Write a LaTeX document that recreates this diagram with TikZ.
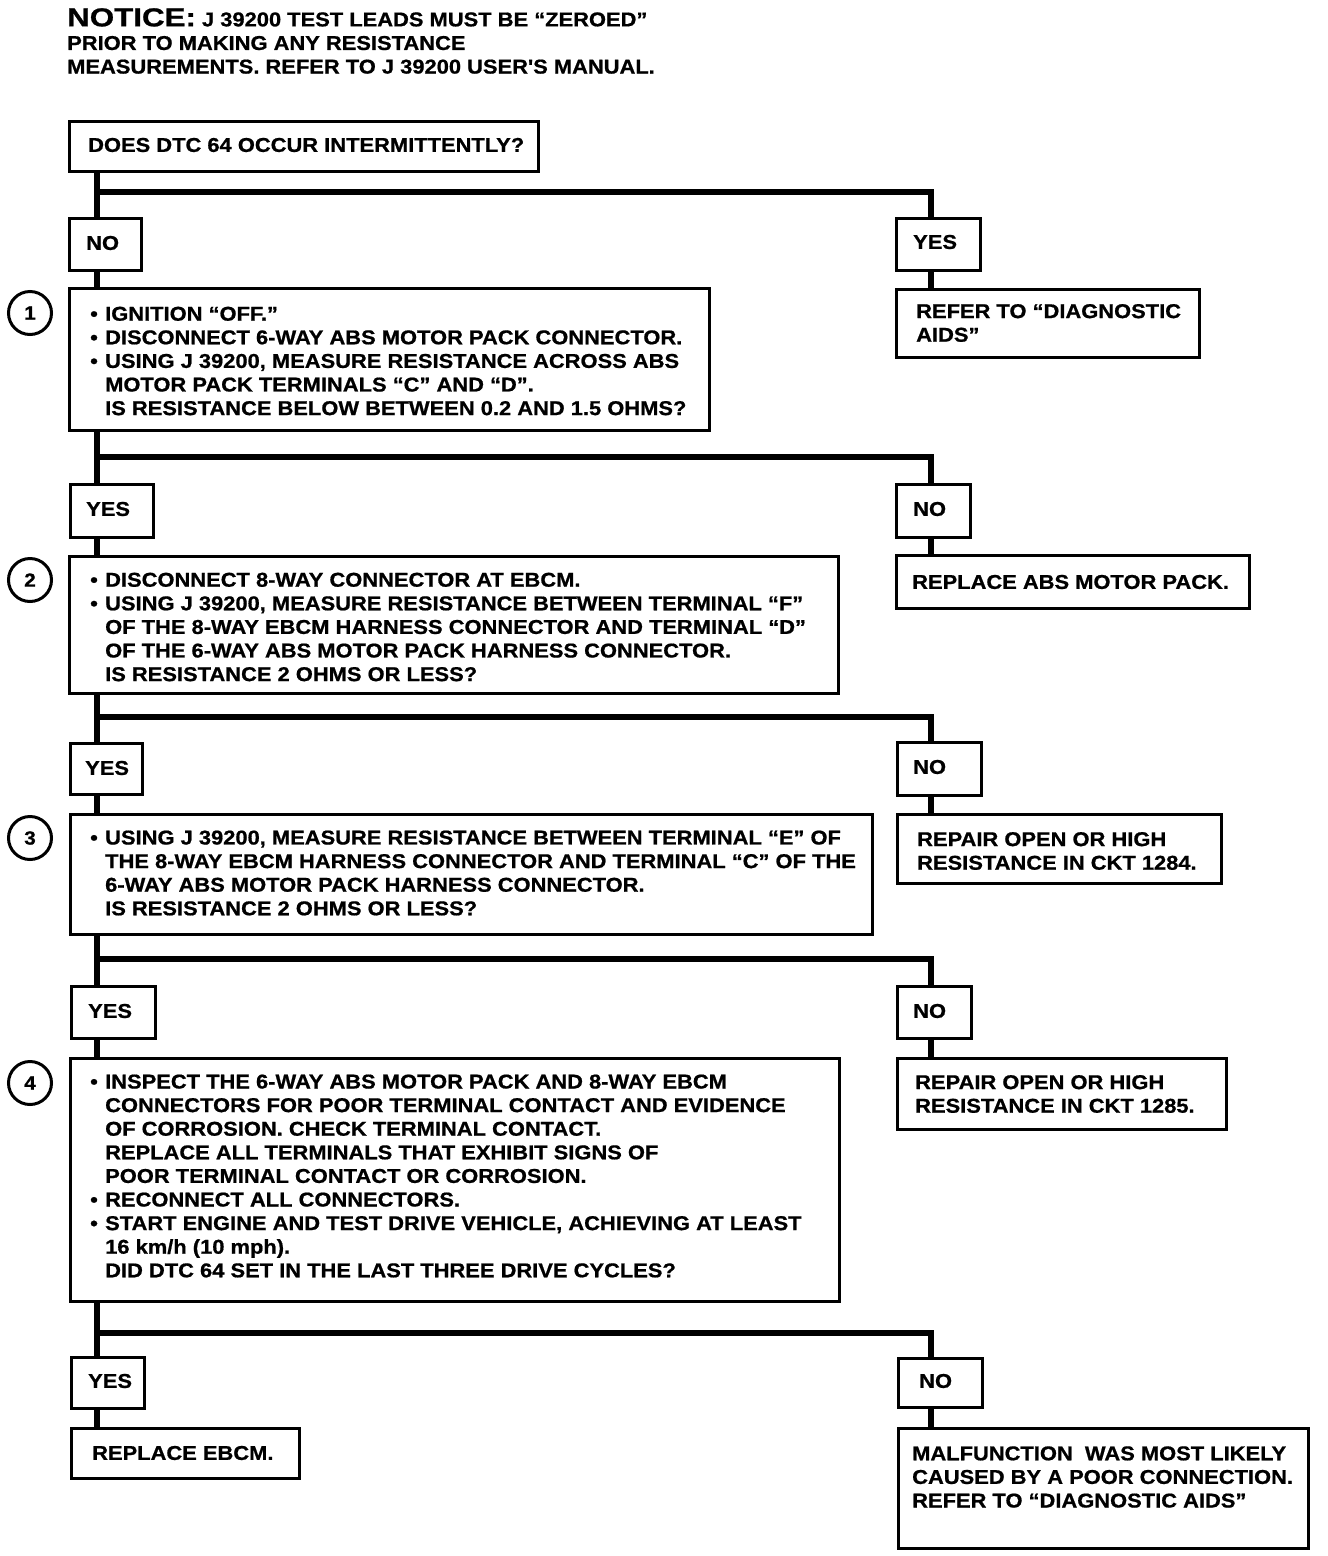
\documentclass[tikz,border=0pt]{standalone}
\usepackage{fontspec}
\usepackage{graphicx}
\newfontfamily\chartfont{Liberation Sans}[FakeStretch=1.095, FakeBold=0.8]
\tikzset{
  box/.style={draw, line width=3pt, anchor=north west, inner sep=0pt},
  txt/.style={anchor=west, inner sep=0pt, align=left,
    font=\chartfont\bfseries\fontsize{20}{23.6}\selectfont},
  conn/.style={line width=6pt},
  stepnum/.style={circle, draw, line width=3pt, minimum size=43pt, inner sep=0pt,
    font=\chartfont\bfseries\fontsize{19}{19}\selectfont}
}
\newcommand{\itm}{\makebox[15pt][l]{\textbullet}}
\newcommand{\ind}{\hspace*{15pt}}
\begin{document}
\begin{tikzpicture}[x=1pt,y=-1pt]
\useasboundingbox (0,0) rectangle (1328,1556);
\coordinate (spine) at (97,0);
\coordinate (rspine) at (931,0);
% notice
\node[txt, anchor=north west] (notice) at (67,8) {\scalebox{1.1}[1]{\fontsize{26}{26}\selectfont NOTICE:} J 39200 TEST LEADS MUST BE “ZEROED”\\PRIOR TO MAKING ANY RESISTANCE\\MEASUREMENTS. REFER TO J 39200 USER'S MANUAL.};
% boxes
\node[box, minimum width=469pt, minimum height=50pt] (q0) at (68,120) {};
\node[box, minimum width=72pt, minimum height=52pt] (n0) at (68,217) {};
\node[box, minimum width=84pt, minimum height=52pt] (y0) at (895,217) {};
\node[box, minimum width=303pt, minimum height=68pt] (r0) at (895,288) {};
\node[box, minimum width=640pt, minimum height=142pt] (b1) at (68,287) {};
\node[box, minimum width=83pt, minimum height=53pt] (y1) at (69,483) {};
\node[box, minimum width=74pt, minimum height=53pt] (n1) at (895,483) {};
\node[box, minimum width=353pt, minimum height=53pt] (r1) at (895,554) {};
\node[box, minimum width=769pt, minimum height=137pt] (b2) at (68,555) {};
\node[box, minimum width=72pt, minimum height=51pt] (y2) at (69,742) {};
\node[box, minimum width=84pt, minimum height=53pt] (n2) at (896,741) {};
\node[box, minimum width=324pt, minimum height=69pt] (r2) at (896,813) {};
\node[box, minimum width=802pt, minimum height=120pt] (b3) at (69,813) {};
\node[box, minimum width=84pt, minimum height=52pt] (y3) at (70,985) {};
\node[box, minimum width=74pt, minimum height=52pt] (n3) at (896,985) {};
\node[box, minimum width=329pt, minimum height=71pt] (r3) at (896,1057) {};
\node[box, minimum width=769pt, minimum height=243pt] (b4) at (69,1057) {};
\node[box, minimum width=73pt, minimum height=51pt] (y4) at (70,1356) {};
\node[box, minimum width=84pt, minimum height=49pt] (n4) at (897,1357) {};
\node[box, minimum width=228pt, minimum height=50pt] (r5) at (70,1427) {};
\node[box, minimum width=410pt, minimum height=120pt] (r4) at (897,1427) {};
% texts
\node[txt] (q0t) at (88,145) {DOES DTC 64 OCCUR INTERMITTENTLY?};
\node[txt] (n0t) at (86,243) {NO};
\node[txt] (y0t) at (913,242) {YES};
\node[txt] (r0t) at (916,323) {REFER TO “DIAGNOSTIC\\AIDS”};
\node[txt] (b1t) at (90,361) {\itm IGNITION “OFF.”\\\itm DISCONNECT 6-WAY ABS MOTOR PACK CONNECTOR.\\\itm USING J 39200, MEASURE RESISTANCE ACROSS ABS\\\ind MOTOR PACK TERMINALS “C” AND “D”.\\\ind IS RESISTANCE BELOW BETWEEN 0.2 AND 1.5 OHMS?};
\node[txt] (y1t) at (86,509) {YES};
\node[txt] (n1t) at (913,509) {NO};
\node[txt] (r1t) at (912,582) {REPLACE ABS MOTOR PACK.};
\node[txt] (b2t) at (90,627) {\itm DISCONNECT 8-WAY CONNECTOR AT EBCM.\\\itm USING J 39200, MEASURE RESISTANCE BETWEEN TERMINAL “F”\\\ind OF THE 8-WAY EBCM HARNESS CONNECTOR AND TERMINAL “D”\\\ind OF THE 6-WAY ABS MOTOR PACK HARNESS CONNECTOR.\\\ind IS RESISTANCE 2 OHMS OR LESS?};
\node[txt] (y2t) at (85,768) {YES};
\node[txt] (n2t) at (913,767) {NO};
\node[txt] (r2t) at (917,851) {REPAIR OPEN OR HIGH\\RESISTANCE IN CKT 1284.};
\node[txt] (b3t) at (90,873) {\itm USING J 39200, MEASURE RESISTANCE BETWEEN TERMINAL “E” OF\\\ind THE 8-WAY EBCM HARNESS CONNECTOR AND TERMINAL “C” OF THE\\\ind 6-WAY ABS MOTOR PACK HARNESS CONNECTOR.\\\ind IS RESISTANCE 2 OHMS OR LESS?};
\node[txt] (y3t) at (88,1011) {YES};
\node[txt] (n3t) at (913,1011) {NO};
\node[txt] (r3t) at (915,1094) {REPAIR OPEN OR HIGH\\RESISTANCE IN CKT 1285.};
\node[txt] (b4t) at (90,1176) {\itm INSPECT THE 6-WAY ABS MOTOR PACK AND 8-WAY EBCM\\\ind CONNECTORS FOR POOR TERMINAL CONTACT AND EVIDENCE\\\ind OF CORROSION. CHECK TERMINAL CONTACT.\\\ind REPLACE ALL TERMINALS THAT EXHIBIT SIGNS OF\\\ind POOR TERMINAL CONTACT OR CORROSION.\\\itm RECONNECT ALL CONNECTORS.\\\itm START ENGINE AND TEST DRIVE VEHICLE, ACHIEVING AT LEAST\\\ind 16 km/h (10 mph).\\\ind DID DTC 64 SET IN THE LAST THREE DRIVE CYCLES?};
\node[txt] (y4t) at (88,1381) {YES};
\node[txt] (n4t) at (919,1381) {NO};
\node[txt] (r5t) at (92,1453) {REPLACE EBCM.};
\node[txt] (r4t) at (912,1477) {MALFUNCTION\ \ WAS MOST LIKELY\\CAUSED BY A POOR CONNECTION.\\REFER TO “DIAGNOSTIC AIDS”};
% step numbers
\node[stepnum] (c1) at (30,313) {1};
\node[stepnum] (c2) at (30,580) {2};
\node[stepnum] (c3) at (30,838) {3};
\node[stepnum] (c4) at (30,1083) {4};
% split points
\coordinate (s0) at (97,192);
\coordinate (s1) at (97,457);
\coordinate (s2) at (97,717);
\coordinate (s3) at (97,959);
\coordinate (s4) at (97,1333);
% connectors
\draw[conn] (q0.south -| spine) -- (n0.north -| spine);
\draw[conn] (s0) -| (y0.north -| rspine);
\draw[conn] (n0.south -| spine) -- (b1.north -| spine);
\draw[conn] (y0.south -| rspine) -- (r0.north -| rspine);
\draw[conn] (b1.south -| spine) -- (y1.north -| spine);
\draw[conn] (s1) -| (n1.north -| rspine);
\draw[conn] (y1.south -| spine) -- (b2.north -| spine);
\draw[conn] (n1.south -| rspine) -- (r1.north -| rspine);
\draw[conn] (b2.south -| spine) -- (y2.north -| spine);
\draw[conn] (s2) -| (n2.north -| rspine);
\draw[conn] (y2.south -| spine) -- (b3.north -| spine);
\draw[conn] (n2.south -| rspine) -- (r2.north -| rspine);
\draw[conn] (b3.south -| spine) -- (y3.north -| spine);
\draw[conn] (s3) -| (n3.north -| rspine);
\draw[conn] (y3.south -| spine) -- (b4.north -| spine);
\draw[conn] (n3.south -| rspine) -- (r3.north -| rspine);
\draw[conn] (b4.south -| spine) -- (y4.north -| spine);
\draw[conn] (s4) -| (n4.north -| rspine);
\draw[conn] (y4.south -| spine) -- (r5.north -| spine);
\draw[conn] (n4.south -| rspine) -- (r4.north -| rspine);
\end{tikzpicture}
\end{document}
